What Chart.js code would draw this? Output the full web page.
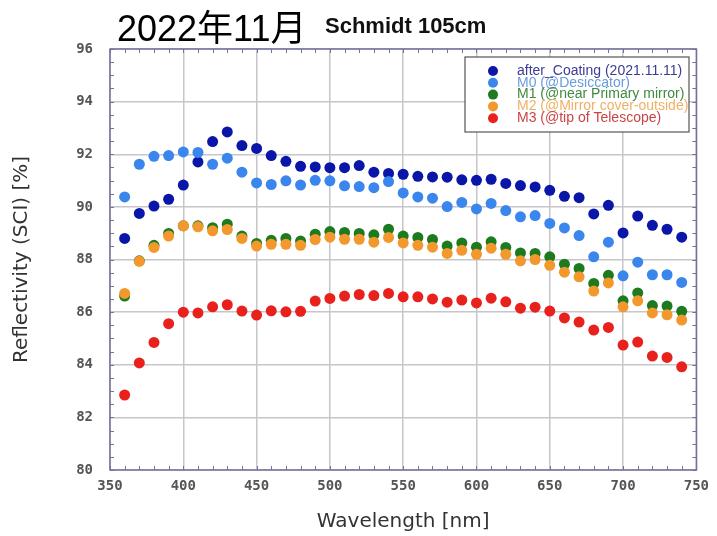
<!DOCTYPE html>
<html>
<head>
<meta charset="utf-8">
<script src="https://cdn.jsdelivr.net/npm/chart.js@4.4.0/dist/chart.umd.min.js"></script>
<style>
  html, body { margin: 0; padding: 0; background: #fff; }
</style>
</head>
<body>
<canvas id="reflChart" width="717" height="536"></canvas>
<script>
// 波長 [nm]
const wavelengths = [360, 370, 380, 390, 400, 410, 420, 430, 440, 450,
  460, 470, 480, 490, 500, 510, 520, 530, 540, 550,
  560, 570, 580, 590, 600, 610, 620, 630, 640, 650,
  660, 670, 680, 690, 700, 710, 720, 730, 740];

// 反射率 [%]
const afterCoating = [88.80, 89.75, 90.03, 90.29, 90.83, 91.71, 92.48, 92.85, 92.33, 92.22,
  91.95, 91.73, 91.54, 91.52, 91.49, 91.49, 91.57, 91.32, 91.27, 91.24,
  91.16, 91.14, 91.13, 91.03, 91.01, 91.05, 90.89, 90.81, 90.76, 90.63,
  90.40, 90.35, 89.73, 90.06, 89.01, 89.65, 89.30, 89.15, 88.85];
const m0 = [90.38, 91.62, 91.92, 91.95, 92.09, 92.07, 91.62, 91.85, 91.32, 90.91,
  90.85, 90.99, 90.83, 91.01, 90.99, 90.80, 90.77, 90.73, 90.96, 90.53,
  90.38, 90.33, 90.01, 90.17, 89.92, 90.13, 89.86, 89.62, 89.67, 89.37,
  89.20, 88.91, 88.10, 88.66, 87.38, 87.90, 87.42, 87.42, 87.13];
const m1 = [86.61, 87.95, 88.54, 88.99, 89.28, 89.28, 89.21, 89.34, 88.89, 88.61,
  88.73, 88.80, 88.70, 88.96, 89.06, 89.03, 88.99, 88.94, 89.15, 88.89,
  88.84, 88.76, 88.51, 88.63, 88.47, 88.67, 88.46, 88.25, 88.23, 88.10,
  87.82, 87.66, 87.09, 87.40, 86.43, 86.73, 86.25, 86.23, 86.03];
const m2 = [86.71, 87.93, 88.46, 88.89, 89.28, 89.24, 89.09, 89.14, 88.80, 88.51,
  88.58, 88.58, 88.54, 88.76, 88.85, 88.77, 88.77, 88.66, 88.84, 88.63,
  88.54, 88.47, 88.23, 88.35, 88.20, 88.43, 88.20, 87.95, 88.00, 87.78,
  87.52, 87.34, 86.80, 87.11, 86.20, 86.43, 85.97, 85.90, 85.70];
const m3 = [82.85, 84.07, 84.85, 85.56, 86.00, 85.97, 86.20, 86.28, 86.04, 85.89,
  86.05, 86.01, 86.03, 86.42, 86.52, 86.61, 86.67, 86.63, 86.71, 86.58,
  86.58, 86.50, 86.38, 86.46, 86.35, 86.53, 86.39, 86.15, 86.19, 86.04,
  85.78, 85.62, 85.32, 85.42, 84.75, 84.86, 84.33, 84.28, 83.92];

const seriesLabels = [
  "after_Coating (2021.11.11)",
  "M0 (@Desiccator)",
  "M1 (@near Primary mirror)",
  "M2 (@Mirror cover-outside)",
  "M3 (@tip of Telescope)",
];
const seriesValues = [afterCoating, m0, m1, m2, m3];
const pointColors = ["#0a16a8", "#3a86ec", "#1e7a1e", "#f2982c", "#e8211c"];
const textColors = ["#3c3c94", "#6a9bdc", "#3f8a3f", "#f0b064", "#c94444"];

const headerText = "2022年11月";
const chartTitle = "Schmidt 105cm";
const xTitle = "Wavelength [nm]";
const yTitle = "Reflectivity (SCI) [%]";

const frameColor = "#72729c";

// 枠・補助目盛り・凡例・見出し
const decor = {
  id: "decor",
  afterDraw(chart) {
    const { ctx, chartArea: a, scales: { x, y } } = chart;
    ctx.save();

    // 補助目盛り（内向き）
    ctx.strokeStyle = frameColor;
    ctx.lineWidth = 1;
    ctx.beginPath();
    for (let v = x.min; v <= x.max; v += 10) {
      const px = Math.round(x.getPixelForValue(v)) + 0.5;
      ctx.moveTo(px, a.bottom); ctx.lineTo(px, a.bottom - 4);
      ctx.moveTo(px, a.top); ctx.lineTo(px, a.top + 4);
    }
    for (let v = y.min; v <= y.max; v += 0.5) {
      const py = Math.round(y.getPixelForValue(v)) + 0.5;
      ctx.moveTo(a.left, py); ctx.lineTo(a.left + 4, py);
      ctx.moveTo(a.right, py); ctx.lineTo(a.right - 4, py);
    }
    ctx.stroke();

    // 枠
    ctx.lineWidth = 1.5;
    ctx.strokeRect(a.left, a.top, a.right - a.left, a.bottom - a.top);

    // 凡例
    const box = { left: 465, top: 57, width: 224, height: 75 };
    ctx.fillStyle = "#fff";
    ctx.fillRect(box.left, box.top, box.width, box.height);
    ctx.strokeStyle = "#555";
    ctx.lineWidth = 1.2;
    ctx.strokeRect(box.left, box.top, box.width, box.height);
    ctx.font = "14px 'Liberation Sans', Arial, sans-serif";
    ctx.textBaseline = "middle";
    ctx.textAlign = "left";
    chart.data.datasets.forEach((ds, i) => {
      const rowY = box.top + 14 + i * 11.8;
      ctx.beginPath();
      ctx.fillStyle = pointColors[i];
      ctx.arc(box.left + 28, rowY, 5, 0, Math.PI * 2);
      ctx.fill();
      ctx.fillStyle = textColors[i];
      ctx.fillText(ds.label, box.left + 52, rowY);
    });

    // 見出し
    ctx.fillStyle = "#000";
    ctx.textBaseline = "alphabetic";
    ctx.font = "36px 'Liberation Sans', 'Noto Sans CJK JP', sans-serif";
    ctx.fillText(headerText, 117, 41);
    ctx.font = "bold 22px 'Liberation Sans', Arial, sans-serif";
    ctx.fillStyle = "#111";
    ctx.fillText(chartTitle, 325, 33);

    ctx.restore();
  },
};

const ctx = document.getElementById("reflChart").getContext("2d");
const reflChart = new Chart(ctx, {
  type: "scatter",
  data: {
    datasets: seriesValues.map((vals, i) => ({
      label: seriesLabels[i],
      data: wavelengths.map((w, j) => ({ x: w, y: vals[j] })),
      backgroundColor: pointColors[i],
      borderColor: pointColors[i],
      borderWidth: 0,
      pointRadius: 5.5,
      pointHoverRadius: 5.5,
      order: seriesValues.length - i, // 後のシリーズを上に描く
    })),
  },
  options: {
    responsive: false,
    animation: false,
    events: [],
    layout: { padding: { left: 0, right: 15, top: 49, bottom: 0 } },
    plugins: {
      legend: { display: false },
      tooltip: { enabled: false },
    },
    scales: {
      x: {
        type: "linear",
        min: 350,
        max: 750,
        afterFit(scale) { scale.height = 66; },
        ticks: {
          stepSize: 50,
          padding: 8,
          color: "#555",
          font: { family: "'DejaVu Sans Mono', monospace", size: 14, weight: "bold" },
        },
        grid: { color: "#c6c6cc", lineWidth: 1.5, drawTicks: false },
        border: { display: false },
        title: {
          display: true,
          text: xTitle,
          color: "#333",
          padding: { top: 0, bottom: 2 },
          font: { family: "'DejaVu Sans', sans-serif", size: 20 },
        },
      },
      y: {
        min: 80,
        max: 96,
        afterFit(scale) { scale.width = 110; },
        ticks: {
          stepSize: 2,
          padding: 17,
          color: "#555",
          font: { family: "'DejaVu Sans Mono', monospace", size: 14, weight: "bold" },
        },
        grid: { color: "#c6c6cc", lineWidth: 1.5, drawTicks: false },
        border: { display: false },
        title: {
          display: true,
          text: yTitle,
          color: "#333",
          padding: { top: 10, bottom: 0 },
          font: { family: "'DejaVu Sans', sans-serif", size: 20 },
        },
      },
    },
  },
  plugins: [decor],
});
</script>
</body>
</html>
